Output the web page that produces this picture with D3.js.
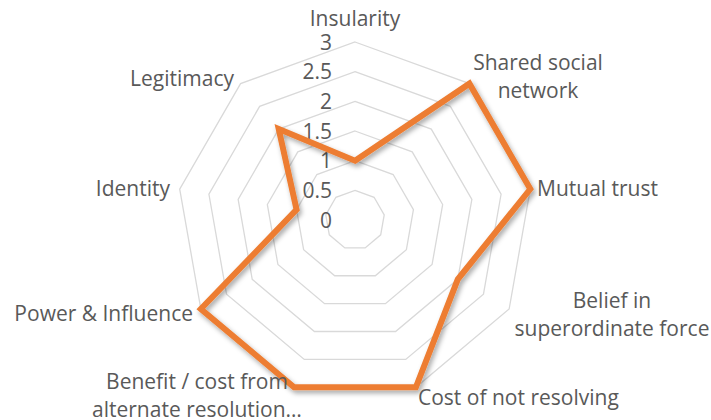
<!DOCTYPE html>
<meta charset="utf-8">
<style>
body { margin: 0; background: #fff; }
text { font-family: "Open Sans", sans-serif; fill: #595959; }
.ring { fill: none; stroke: #d9d9d9; stroke-width: 1.3; }
.series { fill: none; stroke: #ed7d31; stroke-width: 6; stroke-linejoin: miter; }
</style>
<body>
<script src="https://d3js.org/d3.v7.min.js"></script>
<script>
var categories = ["Insularity", "Shared social network", "Mutual trust", "Belief in superordinate force",
  "Cost of not resolving", "Benefit / cost from alternate resolution\u2026", "Power & Influence", "Identity", "Legitimacy"];
var values = [1, 3, 3, 2, 3, 3, 3, 1, 2];
var ticks = [0, 0.5, 1, 1.5, 2, 2.5, 3];

// label lines and where each sits
var labelLines = [["Insularity"], ["Shared social", "network"], ["Mutual trust"], ["Belief in", "superordinate force"],
  ["Cost of not resolving"], ["Benefit / cost from", "alternate resolution\u2026"], ["Power & Influence"], ["Identity"], ["Legitimacy"]];
var labelPos = [
  {x: 355, y: 18, a: "middle"},
  {x: 538, y: 62, a: "middle"},
  {x: 537, y: 188, a: "start"},
  {x: 612, y: 300, a: "middle"},
  {x: 418, y: 397, a: "start"},
  {x: 197, y: 381, a: "middle"},
  {x: 193, y: 313, a: "end"},
  {x: 170, y: 188, a: "end"},
  {x: 234, y: 78, a: "end"}
];

var width = 711, height = 420, cx = 355, cy = 220, R = 178;

var svg = d3.select("body").append("svg")
    .attr("width", width)
    .attr("height", height);

var defs = svg.append("defs");
var f = defs.append("filter").attr("id", "shadow")
    .attr("x", "-10%").attr("y", "-10%").attr("width", "130%").attr("height", "130%");
f.append("feDropShadow").attr("dx", 2).attr("dy", 3).attr("stdDeviation", 2.5)
    .attr("flood-color", "#000").attr("flood-opacity", 0.35);

var r = d3.scaleLinear().domain([0, 3]).range([0, R]);
var angle = d3.scalePoint().domain(d3.range(categories.length)).range([0, 2 * Math.PI * (categories.length - 1) / categories.length]);

var g = svg.append("g").attr("transform", "translate(" + cx + "," + cy + ")");

var radial = d3.lineRadial().curve(d3.curveLinearClosed)
    .angle(function(d) { return angle(d.i); })
    .radius(function(d) { return r(d.v); });

// rings
g.selectAll(".ring")
    .data(ticks.filter(function(t) { return t > 0; }))
  .enter().append("path")
    .attr("class", "ring")
    .attr("d", function(t) { return radial(categories.map(function(c, i) { return {i: i, v: t}; })); });

// tick labels
g.selectAll(".tick")
    .data(ticks)
  .enter().append("text")
    .attr("class", "tick")
    .attr("x", -23)
    .attr("y", function(t) { return -r(t); })
    .attr("dy", "0.36em")
    .attr("text-anchor", "end")
    .style("font-size", "21px")
    .text(function(t) { return t; });

// series
g.append("path")
    .attr("class", "series")
    .attr("filter", "url(#shadow)")
    .attr("d", radial(values.map(function(v, i) { return {i: i, v: v}; })));

// category labels
var lab = svg.selectAll(".cat")
    .data(labelLines)
  .enter().append("text")
    .attr("class", "cat")
    .attr("text-anchor", function(d, i) { return labelPos[i].a; })
    .style("font-size", "21px");

lab.selectAll("tspan")
    .data(function(d, i) { return d.map(function(s) { return {s: s, p: labelPos[i]}; }); })
  .enter().append("tspan")
    .attr("x", function(d) { return d.p.x; })
    .attr("y", function(d, j) { return d.p.y + j * 28; })
    .attr("dy", "0.36em")
    .text(function(d) { return d.s; });
</script>
</body>
